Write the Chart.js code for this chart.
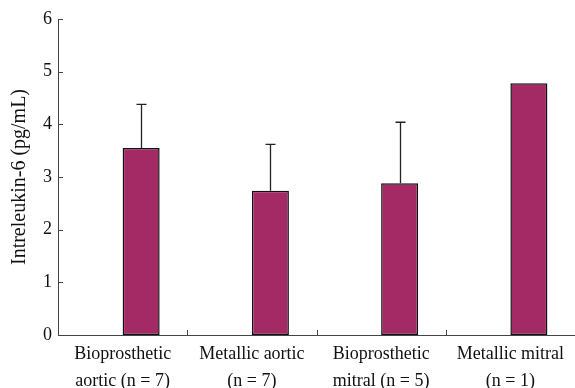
<!DOCTYPE html>
<html>
<head>
<meta charset="utf-8">
<script src="https://cdn.jsdelivr.net/npm/chart.js@4"></script>
<style>
  html, body { margin: 0; padding: 0; background: #fff; }
  #wrap { width: 575px; height: 388px; }
</style>
</head>
<body>
<div id="wrap"><canvas id="myChart" width="575" height="388"></canvas></div>
<script>
const categories = [
  ["Bioprosthetic", "aortic (n = 7)"],
  ["Metallic aortic", "(n = 7)"],
  ["Bioprosthetic", "mitral (n = 5)"],
  ["Metallic mitral", "(n = 1)"]
];
const meanValues = [3.55, 2.74, 2.88, 4.78];
const sdValues = [0.83, 0.88, 1.16, null];
const yTicks = [0, 1, 2, 3, 4, 5, 6];

const axisColor = "#444";
const textColor = "#111";

// ticks point into the plot, and error bars go up only
const inwardTicks = {
  id: "inwardTicks",
  afterDraw(chart) {
    const { ctx, scales: { x, y } } = chart;
    ctx.save();
    ctx.strokeStyle = axisColor;
    ctx.lineWidth = 1;
    ctx.beginPath();
    yTicks.forEach(v => {
      const py = Math.round(y.getPixelForValue(v)) + 0.5;
      ctx.moveTo(x.left, py);
      ctx.lineTo(x.left + 5, py);
    });
    for (let i = 1; i < categories.length; i++) {
      const px = Math.round((x.getPixelForValue(i - 1) + x.getPixelForValue(i)) / 2) + 0.5;
      ctx.moveTo(px, y.bottom);
      ctx.lineTo(px, y.bottom - 5);
    }
    ctx.stroke();
    ctx.restore();
  }
};

const errorBars = {
  id: "errorBars",
  afterDatasetsDraw(chart) {
    const { ctx, scales: { y } } = chart;
    const meta = chart.getDatasetMeta(1);
    ctx.save();
    ctx.strokeStyle = "#222";
    ctx.lineWidth = 1.3;
    meta.data.forEach((bar, i) => {
      if (sdValues[i] == null) return;
      const px = Math.round(bar.x) + 0.5;
      const top = y.getPixelForValue(meanValues[i] + sdValues[i]);
      ctx.beginPath();
      ctx.moveTo(px, bar.y);
      ctx.lineTo(px, top);
      ctx.moveTo(px - 5, top);
      ctx.lineTo(px + 5, top);
      ctx.stroke();
    });
    ctx.restore();
  }
};

const data = {
  labels: categories,
  datasets: [
    {
      label: "spacer",
      data: categories.map(() => null),
      backgroundColor: "rgba(0,0,0,0)"
    },
    {
      label: "IL-6",
      data: meanValues,
      backgroundColor: "#a32a64",
      borderColor: "#111",
      borderWidth: 1.5,
      borderSkipped: false
    }
  ]
};

const config = {
  type: "bar",
  data: data,
  plugins: [inwardTicks, errorBars],
  options: {
    responsive: false,
    animation: false,
    categoryPercentage: 0.573,
    barPercentage: 1.0,
    layout: { padding: { top: 19, right: 0, left: 0, bottom: 0 } },
    plugins: {
      legend: { display: false },
      tooltip: { enabled: false }
    },
    scales: {
      x: {
        grid: { display: false, drawTicks: false },
        border: { display: true, color: axisColor, width: 1 },
        ticks: {
          color: textColor,
          maxRotation: 0,
          autoSkip: false,
          padding: 6,
          font: { family: "Liberation Serif", size: 18, lineHeight: 1.5 }
        },
        afterFit(scale) { scale.height = 53; }
      },
      y: {
        min: 0,
        max: 6,
        grid: { display: false, drawTicks: false },
        border: { display: true, color: axisColor, width: 1 },
        ticks: {
          stepSize: 1,
          color: textColor,
          padding: 6,
          font: { family: "Liberation Serif", size: 18 }
        },
        title: {
          display: true,
          text: "Intreleukin-6 (pg/mL)",
          color: textColor,
          padding: { top: 8, bottom: 0 },
          font: { family: "Liberation Serif", size: 20 }
        },
        afterFit(scale) { scale.width = 58; }
      }
    }
  }
};

const myChart = new Chart(document.getElementById("myChart"), config);
</script>
</body>
</html>
